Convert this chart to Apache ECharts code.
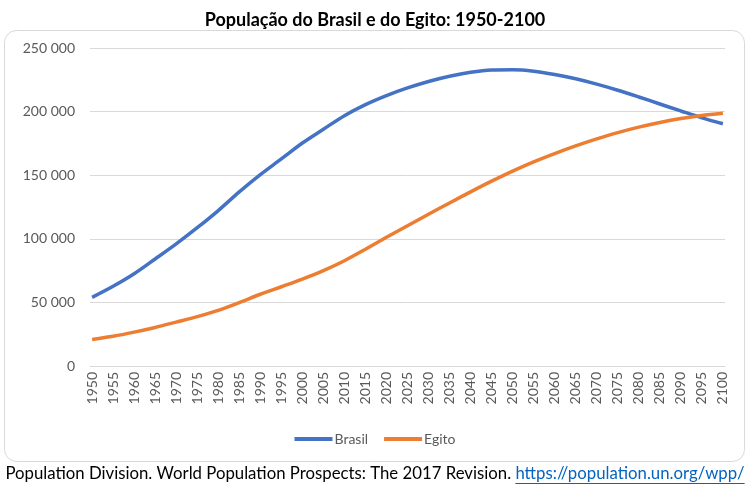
<!DOCTYPE html>
<html><head><meta charset="utf-8">
<script src="https://cdn.jsdelivr.net/npm/echarts@6/dist/echarts.min.js"></script>
<style>html,body{margin:0;padding:0;background:#fff}#c{width:750px;height:487px}</style>
</head><body><div id="c"></div>
<script>
// Data (thousands), read at 5-year marks
const years5 = [1950,1955,1960,1965,1970,1975,1980,1985,1990,1995,2000,2005,2010,2015,2020,2025,2030,2035,2040,2045,2050,2055,2060,2065,2070,2075,2080,2085,2090,2095,2100];
const brasil = [53975,62656,72494,84130,95982,108700,122200,136836,150393,162755,175287,186127,196796,205500,212600,218600,223700,227800,230900,232700,232900,231800,229200,225800,221600,216800,211500,206000,200500,195100,190400];
const egito  = [20897,23400,26632,30310,34514,38800,43748,49900,56397,62300,68335,74970,82761,91800,101200,110300,119300,128200,136900,145300,153200,160500,167000,173000,178500,183500,187800,191500,194600,197000,198700];
const yTicks = [0,50000,100000,150000,200000,250000];
const titleText = 'População do Brasil e do Egito: 1950-2100';
const sourceText = 'Population Division. World Population Prospects: The 2017 Revision. ';
const linkText = 'https://population.un.org/wpp/';

const categories = [];
for (let y = 1950; y <= 2100; y++) categories.push(String(y));

const FONT = 'Lato';
const chart = echarts.init(document.getElementById('c'), null, {renderer:'canvas'});

function measure(t, size, weight){
  const cv = document.createElement('canvas').getContext('2d');
  cv.font = (weight||'normal') + ' ' + size + 'px ' + FONT;
  return cv.measureText(t).width;
}
const fs = Math.min(17, 15 * 740 / (measure(sourceText,15) + measure(linkText,15)));
const w1 = measure(sourceText, fs), w2 = measure(linkText, fs);
const startX = (750 - (w1 + w2)) / 2;

chart.setOption({
  animation:false,
  title:{text:titleText,left:'center',top:6,textStyle:{fontFamily:FONT,fontWeight:'bold',fontSize:18,color:'#000'}},
  graphic:[
    {type:'rect',shape:{x:4.5,y:30.5,width:740,height:431,r:12},style:{fill:'none',stroke:'#d9d9d9',lineWidth:1},z:-1},
    {type:'text',left:startX,top:465,style:{text:sourceText,fontFamily:FONT,fontSize:fs,fill:'#000'}},
    {type:'text',left:startX+w1,top:465,style:{text:linkText,fontFamily:FONT,fontSize:fs,fill:'#0563C1'}},
    {type:'line',shape:{x1:startX+w1,y1:483.5,x2:startX+w1+w2,y2:483.5},style:{stroke:'#0563C1',lineWidth:1}}
  ],
  legend:{bottom:36,left:'center',itemWidth:38,itemHeight:4,itemGap:16,icon:'rect',
    textStyle:{fontFamily:FONT,fontSize:14,color:'#595959',padding:[0,0,0,-3]},
    data:['Brasil','Egito']},
  grid:{left:90,right:25,top:48,bottom:121},
  xAxis:{type:'category',data:categories,boundaryGap:true,
    axisLine:{lineStyle:{color:'#d9d9d9'}},axisTick:{show:false},
    axisLabel:{interval:4,rotate:90,fontFamily:FONT,fontSize:14,color:'#595959',margin:6}},
  yAxis:{type:'value',min:0,max:250000,interval:50000,
    axisLine:{show:false},axisTick:{show:false},
    splitLine:{lineStyle:{color:'#d9d9d9'}},
    axisLabel:{fontFamily:FONT,fontSize:14,color:'#595959',margin:15,
      formatter:v=>yTicks.includes(v)?String(v).replace(/\B(?=(\d{3})+(?!\d))/g,' '):''}},
  series:[
    {name:'Brasil',type:'line',data:years5.map((y,i)=>[String(y),brasil[i]]),showSymbol:false,smooth:0.3,
      lineStyle:{color:'#4472C4',width:3.5},itemStyle:{color:'#4472C4'}},
    {name:'Egito',type:'line',data:years5.map((y,i)=>[String(y),egito[i]]),showSymbol:false,smooth:0.3,
      lineStyle:{color:'#ED7D31',width:3.5},itemStyle:{color:'#ED7D31'}}
  ]
});
</script></body></html>
